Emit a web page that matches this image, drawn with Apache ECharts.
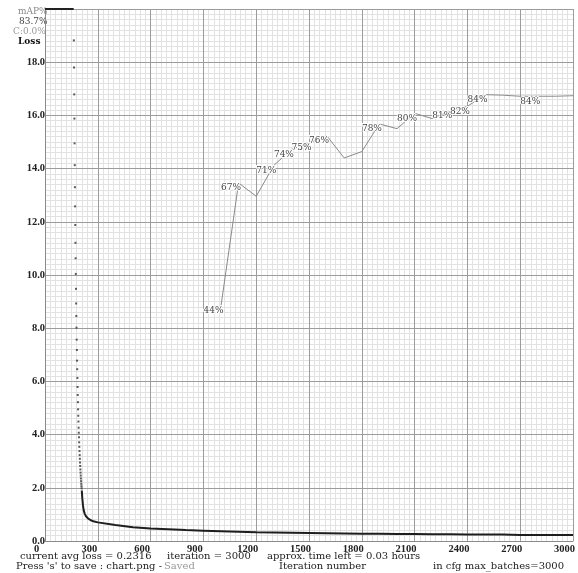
<!DOCTYPE html>
<html>
<head>
<meta charset="utf-8">
<script src="https://cdn.jsdelivr.net/npm/echarts@6/dist/echarts.min.js"></script>
<style>html,body{margin:0;padding:0;background:#fff;}#c{width:578px;height:573px;}</style>
</head>
<body>
<div id="c"></div>
<script>
// ---- data ----
// loss values above the chart top are drawn clipped at 20.0
const lossTopIters = [0, 163];
const lossTopValues = [20, 20];
const lossDropIters = [164,165,166,167,168,169,170,171,172,173,174,175,176,177,178,179,180,181,182,183,184,185,186,187,188,189,190,191,192,193,194,195,196,197,198,199,200,201,202,203,204,205,206,207,208];
const lossDropValues = [18.82,17.80,16.79,15.88,14.95,14.13,13.30,12.58,11.88,11.21,10.63,10.04,9.48,8.93,8.46,8.02,7.57,7.18,6.78,6.46,6.13,5.79,5.49,5.22,4.95,4.71,4.49,4.26,4.07,3.90,3.71,3.54,3.38,3.23,3.09,2.95,2.82,2.69,2.57,2.46,2.35,2.25,2.15,2.06,1.98];
const lossTailIters = [209,212,216,220,226,233,244,260,280,300,400,500,600,700,800,900,1000,1100,1200,1300,1400,1500,1600,1700,1800,1900,2000,2100,2200,2300,2400,2500,2600,2700,2800,2900,3000];
const lossTailValues = [1.90,1.60,1.32,1.15,1.02,0.93,0.85,0.78,0.73,0.70,0.60,0.52,0.47,0.44,0.41,0.39,0.37,0.35,0.33,0.32,0.31,0.30,0.29,0.28,0.27,0.27,0.26,0.26,0.25,0.25,0.24,0.24,0.24,0.23,0.23,0.23,0.23];
const mapIters = [1000,1100,1200,1300,1400,1500,1600,1700,1800,1900,2000,2100,2200,2300,2400,2500,2600,2700,2800,2900,3000];
const mapValues = [44.2,67.3,64.8,70.6,73.6,74.8,76.2,72.0,73.2,78.4,77.5,80.4,79.4,80.8,81.7,83.9,83.8,83.6,83.6,83.6,83.7];
const mapLabelIters = [1000,1100,1300,1400,1500,1600,1900,2100,2300,2400,2500,2800];
const xTicks = [0,300,600,900,1200,1500,1800,2100,2400,2700,3000];
const yTicks = [0,2,4,6,8,10,12,14,16,18];

const chart = echarts.init(document.getElementById('c'), null, {renderer: 'canvas'});
const labelFont = {fontFamily: 'Liberation Serif', fontWeight: 'bold', fontSize: 10.5, color: '#222'};
const textFont = 'DejaVu Serif';
const MINOR = '#e2e2e2', MAJOR = '#9c9c9c';

const option = {
  animation: false,
  backgroundColor: '#fff',
  grid: {left: 45, top: 9, width: 532, height: 532, containLabel: false},
  xAxis: [{
    // minor grid only (drawn beneath)
    type: 'value', position: 'top', min: 0, max: 3000, interval: 300, z: 0,
    axisLine: {show: false}, axisTick: {show: false}, axisLabel: {show: false},
    splitLine: {show: false},
    minorTick: {show: false, splitNumber: 10},
    minorSplitLine: {show: true, lineStyle: {color: MINOR, width: 1}}
  }, {
    type: 'value', position: 'bottom', min: 0, max: 3000, interval: 300, z: 1,
    axisLine: {show: true, onZero: false, lineStyle: {color: '#8a8a8a', width: 1}},
    axisTick: {show: false},
    axisLabel: Object.assign({margin: 3, padding: [0, 17, 0, 0], showMaxLabel: true,
      formatter: v => xTicks.includes(v) ? String(v) : ''}, labelFont),
    splitLine: {show: true, lineStyle: {color: MAJOR, width: 1}}
  }],
  yAxis: [{
    type: 'value', position: 'right', min: 0, max: 20, interval: 2, z: 0,
    axisLine: {show: false}, axisTick: {show: false}, axisLabel: {show: false},
    splitLine: {show: false},
    minorTick: {show: false, splitNumber: 10},
    minorSplitLine: {show: true, lineStyle: {color: MINOR, width: 1}}
  }, {
    type: 'value', position: 'left', min: 0, max: 20, interval: 2, z: 1,
    axisLine: {show: true, onZero: false, lineStyle: {color: '#8a8a8a', width: 1}},
    axisTick: {show: false},
    axisLabel: Object.assign({margin: 0, showMaxLabel: false,
      formatter: v => yTicks.includes(v) ? v.toFixed(1) : ''}, labelFont),
    splitLine: {show: true, lineStyle: {color: MAJOR, width: 1}}
  }, {
    type: 'value', position: 'right', min: 0, max: 100, show: false
  }],
  series: [
    {
      name: 'mAP', type: 'line', xAxisIndex: 1, yAxisIndex: 2,
      data: mapIters.map((it, i) => ({
        value: [it, mapValues[i]],
        label: {show: mapLabelIters.includes(it)}
      })),
      symbol: 'circle', symbolSize: 1, showSymbol: true,
      itemStyle: {color: 'rgba(0,0,0,0)'},
      lineStyle: {color: '#8a8a8a', width: 1},
      label: {
        show: false,
        position: [-17, 1], align: 'left', verticalAlign: 'top',
        formatter: p => Math.round(p.value[1]) + '%',
        fontFamily: 'DejaVu Serif', fontSize: 9, color: '#444',
        textBorderColor: '#fff', textBorderWidth: 2
      },
      labelLayout: {hideOverlap: false},
      z: 3
    },
    {
      name: 'lossTop', type: 'line', xAxisIndex: 1, yAxisIndex: 1, clip: false,
      data: lossTopIters.map((it, i) => [it, lossTopValues[i]]),
      symbol: 'none', lineStyle: {color: '#222', width: 2}, z: 4
    },
    {
      name: 'lossDrop', type: 'scatter', xAxisIndex: 1, yAxisIndex: 1,
      data: lossDropIters.map((it, i) => [it, lossDropValues[i]]),
      symbol: 'rect', symbolSize: 2, itemStyle: {color: '#333'}, z: 4
    },
    {
      name: 'lossTail', type: 'line', xAxisIndex: 1, yAxisIndex: 1,
      data: lossTailIters.map((it, i) => [it, lossTailValues[i]]),
      symbol: 'none', lineStyle: {color: '#1e1e1e', width: 2}, z: 4
    }
  ],
  graphic: [
    {type: 'text', left: 18, top: 7, style: {text: 'mAP%', font: '9px ' + textFont, fill: '#8a8a8a'}},
    {type: 'text', left: 19, top: 17, style: {text: '83.7%', font: '9px ' + textFont, fill: '#444'}},
    {type: 'text', left: 13, top: 27, style: {text: 'C:0.0%', font: '9px ' + textFont, fill: '#9a9a9a'}},
    {type: 'text', left: 18, top: 37, style: {text: 'Loss', font: 'bold 9px ' + textFont, fill: '#111'}},
    {type: 'text', left: 20, top: 551, style: {text: 'current avg loss = 0.2316', font: '10px ' + textFont, fill: '#222'}},
    {type: 'text', left: 167, top: 551, style: {text: 'iteration = 3000', font: '10px ' + textFont, fill: '#222'}},
    {type: 'text', left: 267, top: 551, style: {text: 'approx. time left = 0.03 hours', font: '10px ' + textFont, fill: '#222'}},
    {type: 'text', left: 16, top: 561, style: {text: "Press 's' to save : chart.png - ", font: '10px ' + textFont, fill: '#222'}},
    {type: 'text', left: 164, top: 561, style: {text: 'Saved', font: '10px ' + textFont, fill: '#999'}},
    {type: 'text', left: 279, top: 561, style: {text: 'Iteration number', font: '10px ' + textFont, fill: '#222'}},
    {type: 'text', left: 433, top: 561, style: {text: 'in cfg max_batches=3000', font: '10px ' + textFont, fill: '#222'}}
  ]
};
chart.setOption(option);
</script>
</body>
</html>
